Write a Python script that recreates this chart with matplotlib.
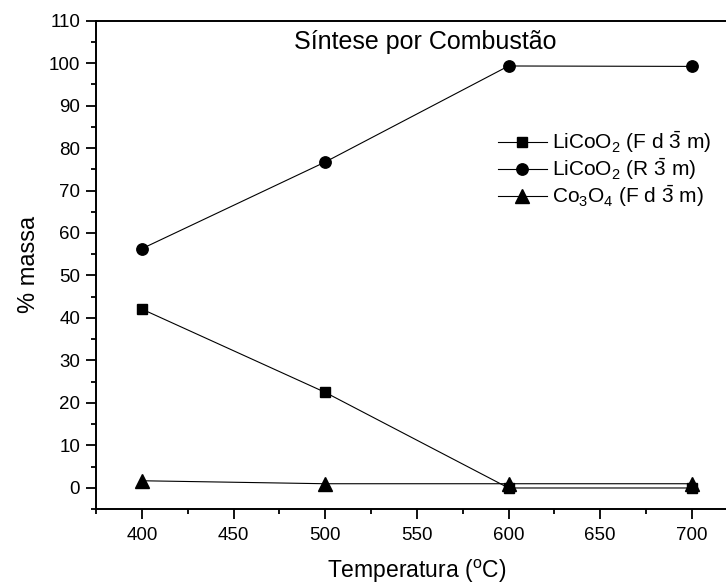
import matplotlib.pyplot as plt
from matplotlib.ticker import MultipleLocator

# temperaturas de síntese e fração mássica de cada fase
temperaturas = [400, 500, 600, 700]
licoo2_fd3m = [42.1, 22.5, 0.0, 0.0]
licoo2_r3m = [56.3, 76.7, 99.3, 99.2]
co3o4_fd3m = [1.7, 1.0, 1.0, 1.0]

rotulos = [r"LiCoO$_2$ (F d $\bar{3}$ m)",
           r"LiCoO$_2$ (R $\bar{3}$ m)",
           r"Co$_3$O$_4$ (F d $\bar{3}$ m)"]

plt.rcParams['font.family'] = ['Liberation Sans', 'DejaVu Sans']
plt.rcParams['mathtext.fontset'] = 'custom'
plt.rcParams['mathtext.rm'] = 'Liberation Sans'
plt.rcParams['mathtext.it'] = 'Liberation Sans'

fig = plt.figure(figsize=(7.26, 5.86), dpi=100)
ax = fig.add_axes([0.1322, 0.131, 0.884, 0.834])

ax.plot(temperaturas, licoo2_fd3m, color='black', lw=0.8, marker='s', ms=7.5, label=rotulos[0])
ax.plot(temperaturas, licoo2_r3m, color='black', lw=0.8, marker='o', ms=8.2, label=rotulos[1])
ax.plot(temperaturas, co3o4_fd3m, color='black', lw=0.8, marker='^', ms=10, label=rotulos[2])

ax.set_xlim(375, 725)
ax.set_ylim(-5, 110)
ax.xaxis.set_major_locator(MultipleLocator(50))
ax.xaxis.set_minor_locator(MultipleLocator(25))
ax.yaxis.set_major_locator(MultipleLocator(10))
ax.yaxis.set_minor_locator(MultipleLocator(5))
ax.tick_params(which='major', direction='out', length=7, width=1.3, labelsize=13.5)
ax.tick_params(axis='x', which='major', pad=6)
ax.tick_params(axis='y', which='major', pad=4.5)
ax.tick_params(which='minor', direction='out', length=3.5, width=1.3)
for lado in ['left', 'bottom', 'top']:
    ax.spines[lado].set_linewidth(1.4)
ax.spines['right'].set_visible(False)

ax.set_xlabel(r"Temperatura ($^{\mathrm{o}}$C)", fontsize=16.5, labelpad=9.5)
ax.set_ylabel("% massa", fontsize=17, labelpad=6)
ax.text(0.513, 0.942, "Síntese por Combustão", transform=ax.transAxes,
        ha='center', va='baseline', fontsize=18)

ax.legend(loc='upper left', bbox_to_anchor=(0.626, 0.778), frameon=False,
          borderpad=0, borderaxespad=0, fontsize=15, handlelength=2.35,
          handletextpad=0.25, labelspacing=0.06)

fig.savefig('out.png', dpi=100)
